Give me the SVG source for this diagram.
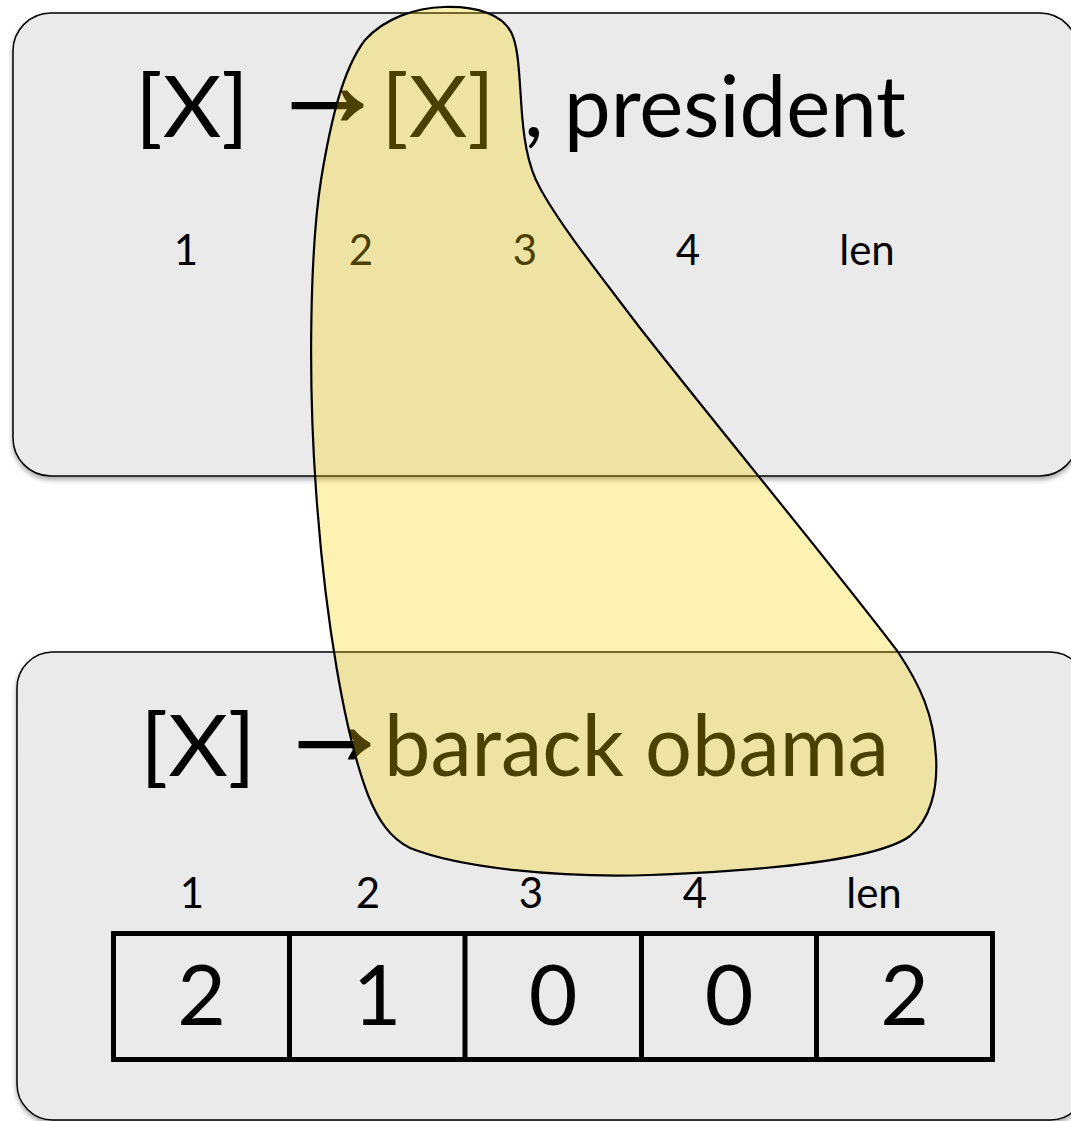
<svg xmlns="http://www.w3.org/2000/svg" width="1071" height="1121" viewBox="0 0 1071 1121">
  <defs>
    <filter id="shadow" x="-5%" y="-5%" width="110%" height="115%">
      <feDropShadow dx="0" dy="3" stdDeviation="2.5" flood-color="#000" flood-opacity="0.35"/>
    </filter>
  </defs>
  <style>
    .panel { fill: #EAEAEA; stroke: #000; stroke-width: 1.5; }
    .big { font-family: Lato, "Open Sans", sans-serif; font-size: 86px; fill: #000; }
    .arrow { font-family: "Liberation Sans", "DejaVu Sans", sans-serif; font-weight: bold; font-size: 117px; fill: #000; stroke: #000; stroke-width: 2.5; stroke-linejoin: miter; }
    .lbl { font-family: Lato, "Open Sans", sans-serif; font-size: 42px; fill: #000; text-anchor: middle; }
    .cell { font-family: Lato, "Open Sans", sans-serif; font-size: 84px; fill: #000; text-anchor: middle; }
    .grid { fill: none; stroke: #000; stroke-width: 5; }
    .blob { fill: #F7D500; fill-opacity: 0.3; stroke: #000; stroke-width: 2.2; }
  </style>

  <g id="top-panel">
    <rect class="panel" x="13" y="13" width="1065" height="463" rx="38" ry="38" filter="url(#shadow)"/>
    <text class="big" x="135" y="137" textLength="114" lengthAdjust="spacingAndGlyphs">[X]</text>
    <text class="arrow" x="269" y="125">→</text>
    <text class="big" x="381" y="137" textLength="114" lengthAdjust="spacingAndGlyphs">[X]</text>
    <text class="big" x="524" y="137">,</text>
    <text class="big" x="564" y="137" textLength="342" lengthAdjust="spacingAndGlyphs">president</text>
    <text class="lbl" x="186" y="265">1</text>
    <text class="lbl" x="361" y="265">2</text>
    <text class="lbl" x="525" y="265">3</text>
    <text class="lbl" x="688" y="265">4</text>
    <text class="lbl" x="867" y="265">len</text>
  </g>

  <g id="bottom-panel">
    <rect class="panel" x="17" y="652" width="1069" height="468" rx="36" ry="36" filter="url(#shadow)"/>
    <text class="big" x="140" y="776" textLength="116" lengthAdjust="spacingAndGlyphs">[X]</text>
    <text class="arrow" x="276" y="764">→</text>
    <text class="big" x="384" y="776" textLength="505" lengthAdjust="spacingAndGlyphs">barack obama</text>
    <text class="lbl" x="192" y="908">1</text>
    <text class="lbl" x="368" y="908">2</text>
    <text class="lbl" x="531" y="908">3</text>
    <text class="lbl" x="695" y="908">4</text>
    <text class="lbl" x="874" y="908">len</text>
  </g>

  <g id="count-table">
    <rect class="grid" x="113.5" y="933.5" width="879" height="126"/>
    <line class="grid" x1="289.5" y1="933.5" x2="289.5" y2="1059.5"/>
    <line class="grid" x1="465" y1="933.5" x2="465" y2="1059.5"/>
    <line class="grid" x1="641.5" y1="933.5" x2="641.5" y2="1059.5"/>
    <line class="grid" x1="816.5" y1="933.5" x2="816.5" y2="1059.5"/>
    <text class="cell" x="201.5" y="1025">2</text>
    <text class="cell" x="377" y="1025">1</text>
    <text class="cell" x="553" y="1025">0</text>
    <text class="cell" x="729" y="1025">0</text>
    <text class="cell" x="904.5" y="1025">2</text>
  </g>

  <g id="highlight">
    <path class="blob" d="M 444,7 C 478,6 502,15 511,32 C 518,45 519,70 521,100 C 523,135 527,165 540,188 C 560,225 600,275 640,328 C 720,430 840,575 898,652 C 920,685 934,715 936,757 C 938,790 930,820 910,836 C 880,858 780,870 650,875 C 560,878 460,868 410,848 C 390,838 378,820 368,795 C 345,735 325,620 316,490 C 308,380 310,250 321,180 C 330,125 342,70 365,40 C 385,18 415,8 444,7 Z"/>
  </g>
</svg>
